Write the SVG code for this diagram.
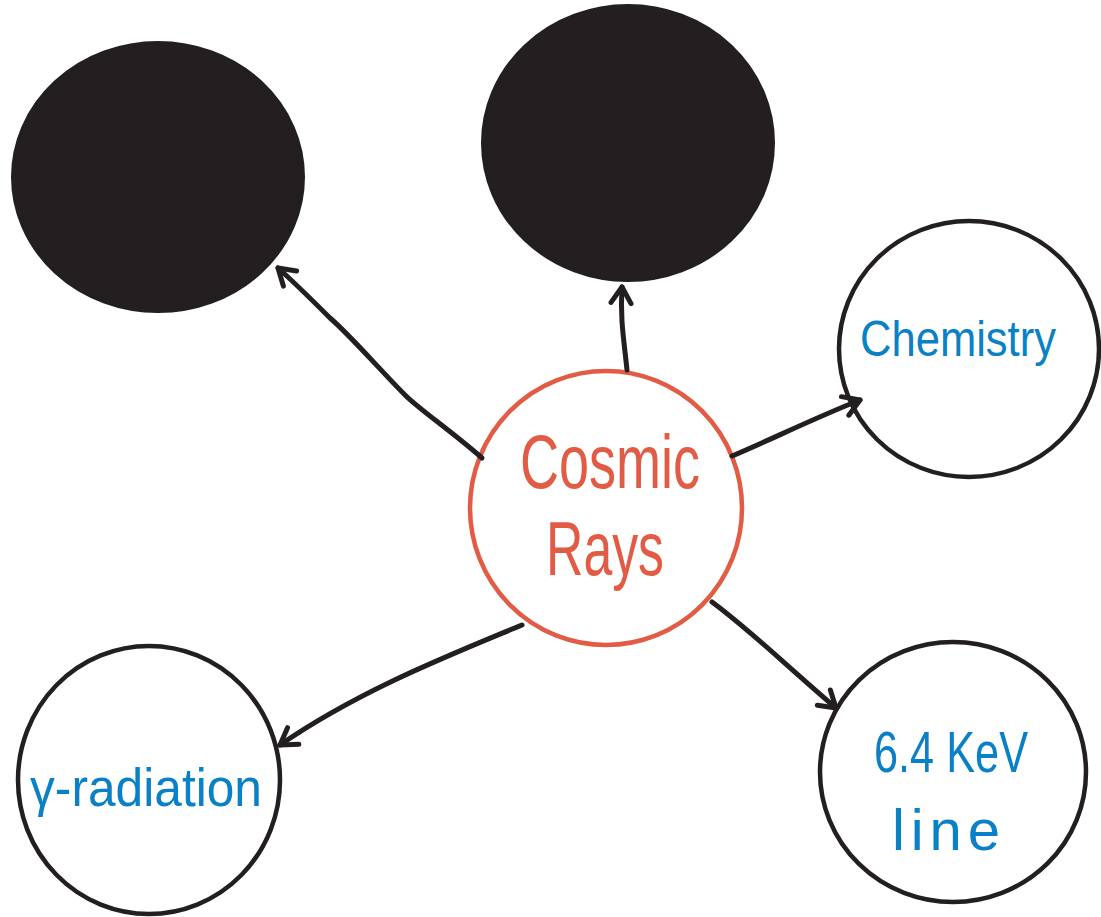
<svg xmlns="http://www.w3.org/2000/svg" width="1101" height="917" viewBox="0 0 1101 917">
<style>
.node{fill:#fff;stroke:#231f20;stroke-width:4.5}
.dark{fill:#231f20;stroke:#231f20;stroke-width:2}
.center{fill:#fff;stroke:#e25c45;stroke-width:4.5}
.conn{fill:none;stroke:#231f20;stroke-width:5;stroke-linecap:round;stroke-linejoin:round}
.lbl{font-family:"Liberation Sans",Arial,sans-serif;fill:#0a80c6}
.clbl{font-family:"Liberation Sans",Arial,sans-serif;fill:#e25c45}
</style>
<defs>
<marker id="arr" viewBox="-20 -20 40 40" refX="0" refY="0" markerWidth="40" markerHeight="40" orient="auto" markerUnits="userSpaceOnUse">
<path d="M-16,-10 L0,0 L-16,10" fill="none" stroke="#231f20" stroke-width="5" stroke-linecap="round" stroke-linejoin="round"/>
</marker>
</defs>
<g id="node-dark1"><ellipse class="dark" cx="158" cy="177" rx="146" ry="135"/></g>
<g id="node-dark2"><ellipse class="dark" cx="628" cy="143" rx="146" ry="138"/></g>
<g id="node-chemistry">
<ellipse class="node" cx="969" cy="349" rx="130" ry="128"/>
<text class="lbl" x="860" y="356" font-size="50" textLength="196" lengthAdjust="spacingAndGlyphs">Chemistry</text>
</g>
<g id="node-cosmic">
<ellipse class="center" cx="606" cy="508" rx="136" ry="137"/>
<text class="clbl" x="520" y="488" font-size="76" textLength="180" lengthAdjust="spacingAndGlyphs">Cosmic</text>
<text class="clbl" x="546" y="575" font-size="76" textLength="118" lengthAdjust="spacingAndGlyphs">Rays</text>
</g>
<g id="node-gamma">
<ellipse class="node" cx="149" cy="780" rx="131" ry="134"/>
<text class="lbl" x="30" y="806" font-size="54" textLength="232" lengthAdjust="spacingAndGlyphs">γ-radiation</text>
</g>
<g id="node-kev">
<ellipse class="node" cx="953" cy="772" rx="133" ry="130"/>
<text class="lbl" x="874" y="772" font-size="58" textLength="154" lengthAdjust="spacingAndGlyphs">6.4 KeV</text>
<text class="lbl" x="892" y="850" font-size="58" textLength="108" lengthAdjust="spacing">line</text>
</g>
<g id="connectors">
<path class="conn" d="M482,458 C450,430 420,410 405,395 C380,370 350,335 330,318 C310,298 295,283 278,268" marker-end="url(#arr)"/>
<path class="conn" d="M627,370 C624,340 620,320 622,287" marker-end="url(#arr)"/>
<path class="conn" d="M732,456 C770,440 810,420 860,400" marker-end="url(#arr)"/>
<path class="conn" d="M712,602 C750,630 780,660 836,708" marker-end="url(#arr)"/>
<path class="conn" d="M522,625 C450,655 360,690 280,745" marker-end="url(#arr)"/>
</g>
</svg>
